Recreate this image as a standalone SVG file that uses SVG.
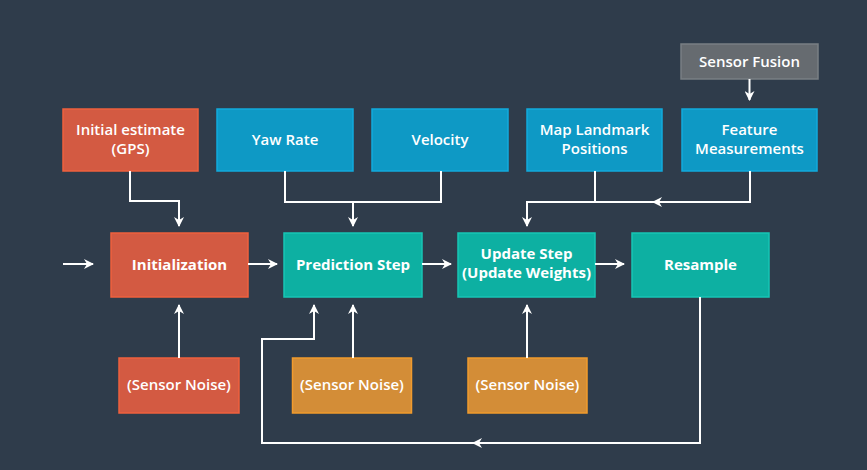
<svg xmlns="http://www.w3.org/2000/svg" width="867" height="470" viewBox="0 0 867 470">
<style>
text{font-family:"Open Sans","Noto Sans","Liberation Sans",sans-serif;fill:#ffffff;text-anchor:middle;font-size:15px}
.b{font-weight:700}
.n{font-weight:600}
.red rect{fill:#d35a42;stroke:#f0603e;stroke-width:1.5}
.blue rect{fill:#0e99c5;stroke:#12aadd;stroke-width:1.5}
.teal rect{fill:#0db0a2;stroke:#17c5b5;stroke-width:1.5}
.orange rect{fill:#d38d37;stroke:#f19b2d;stroke-width:1.5}
.gray rect{fill:#666b70;stroke:#7a7f84;stroke-width:1.5}
#connectors path{fill:none;stroke:#ffffff;stroke-width:2}
</style>
<defs>
<marker id="ah" viewBox="0 0 10 10" refX="9" refY="5" markerWidth="10" markerHeight="10" markerUnits="userSpaceOnUse" orient="auto">
<path d="M0,0 L10,5 L0,10 L3,5 Z" fill="#ffffff"/>
</marker>
<marker id="mid" viewBox="0 0 10 10" refX="5" refY="5" markerWidth="10" markerHeight="10" markerUnits="userSpaceOnUse" orient="auto">
<path d="M0,0 L10,5 L0,10 L3,5 Z" fill="#ffffff"/>
</marker>
</defs>
<rect x="0" y="0" width="867" height="470" fill="#2f3c4b"/>

<g id="sensor-fusion" class="gray"><rect x="681" y="44" width="137" height="35"/><text class="n" x="749.5" y="67">Sensor Fusion</text></g>
<g id="initial-estimate" class="red"><rect x="63" y="109" width="135" height="62"/><text class="n" x="130.5" y="135">Initial estimate</text><text class="n" x="130.5" y="154">(GPS)</text></g>
<g id="yaw-rate" class="blue"><rect x="217" y="109" width="136" height="62"/><text class="n" x="285" y="145">Yaw Rate</text></g>
<g id="velocity" class="blue"><rect x="372" y="109" width="136" height="62"/><text class="n" x="440" y="145">Velocity</text></g>
<g id="map-landmark" class="blue"><rect x="527" y="109" width="135" height="62"/><text class="n" x="594.5" y="135">Map Landmark</text><text class="n" x="594.5" y="154">Positions</text></g>
<g id="feature-measurements" class="blue"><rect x="682" y="109" width="135" height="62"/><text class="n" x="749.5" y="135">Feature</text><text class="n" x="749.5" y="154">Measurements</text></g>

<g id="initialization" class="red"><rect x="111" y="233" width="137" height="64"/><text class="b" x="179.5" y="270">Initialization</text></g>
<g id="prediction" class="teal"><rect x="284" y="233" width="138" height="64"/><text class="b" x="353" y="270">Prediction Step</text></g>
<g id="update" class="teal"><rect x="458" y="233" width="137" height="64"/><text class="b" x="526.5" y="259">Update Step</text><text class="b" x="526.5" y="278">(Update Weights)</text></g>
<g id="resample" class="teal"><rect x="632" y="233" width="137" height="64"/><text class="b" x="700.5" y="270">Resample</text></g>

<g id="noise-init" class="red"><rect x="119" y="358" width="120" height="55"/><text class="n" x="179" y="390">(Sensor Noise)</text></g>
<g id="noise-pred" class="orange"><rect x="292.5" y="358" width="119" height="55"/><text class="n" x="352" y="390">(Sensor Noise)</text></g>
<g id="noise-update" class="orange"><rect x="468" y="358" width="119" height="55"/><text class="n" x="527.5" y="390">(Sensor Noise)</text></g>

<g id="connectors">
<path d="M63,264 H93" marker-end="url(#ah)"/>
<path d="M248,264 H277" marker-end="url(#ah)"/>
<path d="M422,264 H451" marker-end="url(#ah)"/>
<path d="M595,264 H624" marker-end="url(#ah)"/>
<path d="M130,171 V201 H179 V226" marker-end="url(#ah)"/>
<path d="M285,171 V202 H441 V171"/>
<path d="M353,202 V226" marker-end="url(#ah)"/>
<path d="M749.5,79 V100" marker-end="url(#ah)"/>
<path d="M595,171 V202"/>
<path d="M750,171 V202 H657" marker-end="url(#mid)"/>
<path d="M657,202 H527 V226" marker-end="url(#ah)"/>
<path d="M179,358 V305" marker-end="url(#ah)"/>
<path d="M353,358 V305" marker-end="url(#ah)"/>
<path d="M527,358 V305" marker-end="url(#ah)"/>
<path d="M700,297 V443 H477" marker-end="url(#mid)"/>
<path d="M477,443 H262 V339 H314 V305" marker-end="url(#ah)"/>
</g>
</svg>
